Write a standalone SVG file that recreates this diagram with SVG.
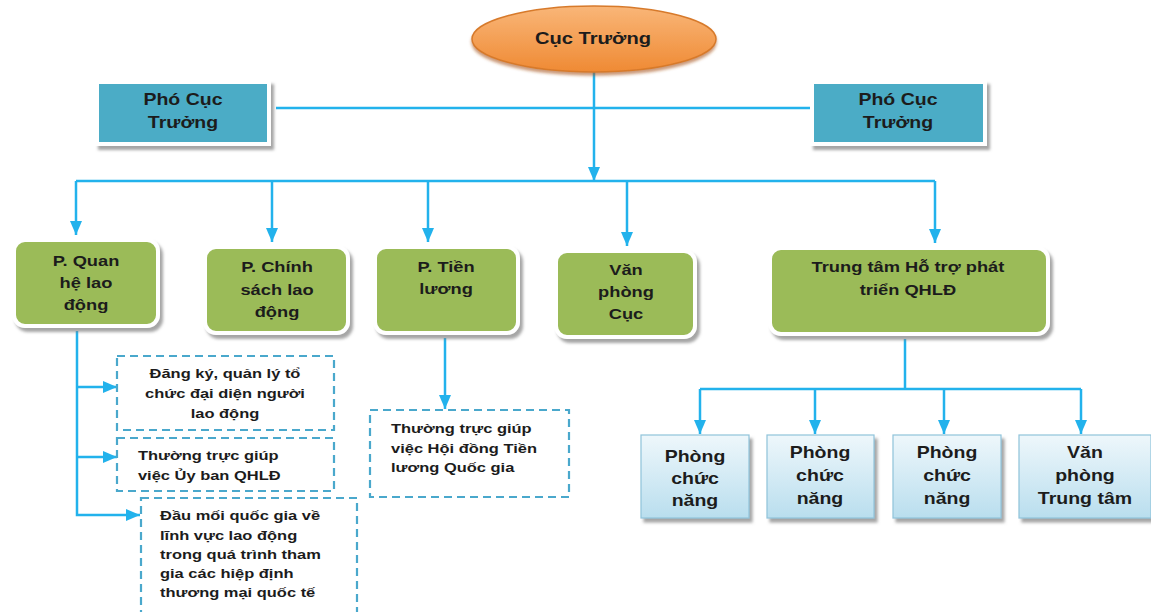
<svg xmlns="http://www.w3.org/2000/svg" width="1151" height="612" viewBox="0 0 1151 612">
<style>
.t{font-family:"Liberation Sans",Arial,sans-serif;font-weight:bold;fill:#1c1c1c}
.tc{font-size:16.5px;text-anchor:middle}
.tp{font-size:16px;text-anchor:middle}
.tg{font-size:15px;text-anchor:middle}
.tb{font-size:16px;text-anchor:middle}
.td{font-size:13.5px}
.tdm{font-size:13.5px;text-anchor:middle}
.blue{fill:#4BACC6;stroke:#ffffff;stroke-width:4}
.green{fill:#9BBB59;stroke:#ffffff;stroke-width:4}
.dash{fill:none;stroke:#4AA8CC;stroke-width:2.2;stroke-dasharray:8 5}
.lb{fill:url(#gLb);stroke:#8FC3DA;stroke-width:1.2}
.ln{fill:none;stroke:#22B2EC;stroke-width:2.5}
</style>
<defs>
<linearGradient id="gOr" x1="0" y1="0" x2="0" y2="1">
<stop offset="0" stop-color="#F9B678"/>
<stop offset="1" stop-color="#EF8A34"/>
</linearGradient>
<linearGradient id="gLb" x1="0" y1="0" x2="0" y2="1">
<stop offset="0" stop-color="#EEF7FB"/>
<stop offset="1" stop-color="#B9DEEE"/>
</linearGradient>
<filter id="sh" x="-20%" y="-20%" width="140%" height="150%">
<feDropShadow dx="3" dy="4" stdDeviation="1.5" flood-color="#7f7f7f" flood-opacity="0.7"/>
</filter>
<filter id="shE" x="-20%" y="-20%" width="140%" height="150%">
<feDropShadow dx="0" dy="3" stdDeviation="1.5" flood-color="#A8571A" flood-opacity="0.6"/>
</filter>
<marker id="ar" viewBox="0 0 14 12" markerWidth="14" markerHeight="12" refX="14" refY="6" orient="auto" markerUnits="userSpaceOnUse">
<path d="M0,0 L14,6 L0,12 z" fill="#22B2EC"/>
</marker>
</defs>
<rect width="1151" height="612" fill="#ffffff"/>

<g id="connectors">
<path class="ln" d="M276,108 H810"/>
<path class="ln" d="M594,72 V181" marker-end="url(#ar)"/>
<path class="ln" d="M76,181 H935"/>
<path class="ln" d="M76,181 V235" marker-end="url(#ar)"/>
<path class="ln" d="M272,181 V242" marker-end="url(#ar)"/>
<path class="ln" d="M428,181 V242" marker-end="url(#ar)"/>
<path class="ln" d="M627,181 V246" marker-end="url(#ar)"/>
<path class="ln" d="M935,181 V243" marker-end="url(#ar)"/>
<path class="ln" d="M77,331 V515 H140" marker-end="url(#ar)"/>
<path class="ln" d="M77,387 H117" marker-end="url(#ar)"/>
<path class="ln" d="M77,457 H117" marker-end="url(#ar)"/>
<path class="ln" d="M445,338 V409" marker-end="url(#ar)"/>
<path class="ln" d="M905,339 V389"/>
<path class="ln" d="M700,389 H1081"/>
<path class="ln" d="M700,389 V434" marker-end="url(#ar)"/>
<path class="ln" d="M815,389 V434" marker-end="url(#ar)"/>
<path class="ln" d="M944,389 V434" marker-end="url(#ar)"/>
<path class="ln" d="M1081,389 V434" marker-end="url(#ar)"/>
</g>

<g id="cuc-truong">
<ellipse cx="594" cy="39" rx="122" ry="33" fill="url(#gOr)" stroke="#D77A2C" stroke-width="1.5" filter="url(#shE)"/>
<text class="t tc" x="593" y="44" transform="matrix(1.22,0,0,1,-130.5,0)">Cục Trưởng</text>
</g>

<g id="pho-cuc-truong-1">
<rect class="blue" x="97" y="82" width="172" height="62" filter="url(#sh)"/>
<text class="t tp" transform="matrix(1.22,0,0,1,-40.3,0)"><tspan x="183" y="105">Phó Cục</tspan><tspan x="183" y="128">Trưởng</tspan></text>
</g>

<g id="pho-cuc-truong-2">
<rect class="blue" x="812" y="82" width="173" height="62" filter="url(#sh)"/>
<text class="t tp" transform="matrix(1.22,0,0,1,-197.6,0)"><tspan x="898" y="105">Phó Cục</tspan><tspan x="898" y="128">Trưởng</tspan></text>
</g>

<g id="p-quan-he-lao-dong">
<rect class="green" x="14" y="240" width="144" height="86" rx="11" filter="url(#sh)"/>
<text class="t tg" transform="matrix(1.22,0,0,1,-18.9,0)"><tspan x="86" y="266">P. Quan</tspan><tspan x="86" y="288">hệ lao</tspan><tspan x="86" y="310">động</tspan></text>
</g>

<g id="p-chinh-sach-lao-dong">
<rect class="green" x="205" y="247" width="143" height="86" rx="11" filter="url(#sh)"/>
<text class="t tg" transform="matrix(1.22,0,0,1,-60.9,0)"><tspan x="277" y="272">P. Chính</tspan><tspan x="277" y="295">sách lao</tspan><tspan x="277" y="317">động</tspan></text>
</g>

<g id="p-tien-luong">
<rect class="green" x="375" y="247" width="143" height="86" rx="11" filter="url(#sh)"/>
<text class="t tg" transform="matrix(1.22,0,0,1,-98.1,0)"><tspan x="446" y="272">P. Tiền</tspan><tspan x="446" y="294">lương</tspan></text>
</g>

<g id="van-phong-cuc">
<rect class="green" x="556" y="251" width="139" height="86" rx="11" filter="url(#sh)"/>
<text class="t tg" transform="matrix(1.22,0,0,1,-137.7,0)"><tspan x="626" y="275">Văn</tspan><tspan x="626" y="297">phòng</tspan><tspan x="626" y="319">Cục</tspan></text>
</g>

<g id="trung-tam">
<rect class="green" x="770" y="248" width="278" height="86" rx="11" filter="url(#sh)"/>
<text class="t tg" transform="matrix(1.22,0,0,1,-199.8,0)"><tspan x="908" y="272">Trung tâm Hỗ trợ phát</tspan><tspan x="908" y="295">triển QHLĐ</tspan></text>
</g>

<g id="dang-ky">
<rect class="dash" x="117" y="356" width="217" height="74"/>
<text class="t tdm" transform="matrix(1.22,0,0,1,-49.5,0)"><tspan x="225" y="378">Đăng ký, quản lý tổ</tspan><tspan x="225" y="398">chức đại diện người</tspan><tspan x="225" y="418">lao động</tspan></text>
</g>

<g id="thuong-truc-uy-ban">
<rect class="dash" x="117" y="438" width="217" height="53"/>
<text class="t td" transform="matrix(1.22,0,0,1,-30.4,0)"><tspan x="138" y="460">Thường trực giúp</tspan><tspan x="138" y="480">việc Ủy ban QHLĐ</tspan></text>
</g>

<g id="dau-moi">
<rect class="dash" x="141" y="498" width="216" height="130"/>
<text class="t td" transform="matrix(1.22,0,0,1,-35.2,0)"><tspan x="160" y="520">Đầu mối quốc gia về</tspan><tspan x="160" y="540">lĩnh vực lao động</tspan><tspan x="160" y="559">trong quá trình tham</tspan><tspan x="160" y="578">gia các hiệp định</tspan><tspan x="160" y="597">thương mại quốc tế</tspan></text>
</g>

<g id="thuong-truc-hoi-dong">
<rect class="dash" x="370" y="410" width="199" height="87"/>
<text class="t td" transform="matrix(1.22,0,0,1,-86,0)"><tspan x="391" y="433">Thường trực giúp</tspan><tspan x="391" y="453">việc Hội đồng Tiền</tspan><tspan x="391" y="472">lương Quốc gia</tspan></text>
</g>

<g id="phong-chuc-nang-1">
<rect class="lb" x="641" y="435" width="108" height="83" filter="url(#sh)"/>
<text class="t tb" transform="matrix(1.22,0,0,1,-152.9,0)"><tspan x="695" y="462">Phòng</tspan><tspan x="695" y="484">chức</tspan><tspan x="695" y="506">năng</tspan></text>
</g>

<g id="phong-chuc-nang-2">
<rect class="lb" x="767" y="435" width="107" height="83" filter="url(#sh)"/>
<text class="t tb" transform="matrix(1.22,0,0,1,-180.4,0)"><tspan x="820" y="458">Phòng</tspan><tspan x="820" y="481">chức</tspan><tspan x="820" y="504">năng</tspan></text>
</g>

<g id="phong-chuc-nang-3">
<rect class="lb" x="893" y="435" width="108" height="83" filter="url(#sh)"/>
<text class="t tb" transform="matrix(1.22,0,0,1,-208.3,0)"><tspan x="947" y="458">Phòng</tspan><tspan x="947" y="481">chức</tspan><tspan x="947" y="504">năng</tspan></text>
</g>

<g id="van-phong-trung-tam">
<rect class="lb" x="1019" y="435" width="132" height="83" filter="url(#sh)"/>
<text class="t tb" transform="matrix(1.22,0,0,1,-238.7,0)"><tspan x="1085" y="458">Văn</tspan><tspan x="1085" y="481">phòng</tspan><tspan x="1085" y="504">Trung tâm</tspan></text>
</g>
</svg>
